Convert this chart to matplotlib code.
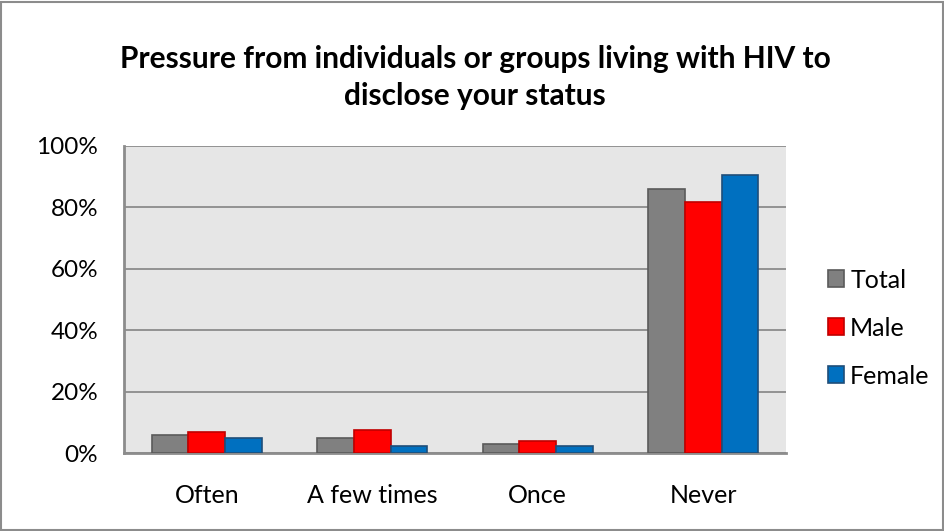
import matplotlib
matplotlib.use("Agg")
import matplotlib.pyplot as plt
import numpy as np
from matplotlib.patches import Rectangle

categories = ["Often", "A few times", "Once", "Never"]
total = [5.9, 5.0, 3.0, 86.1]
male = [6.9, 7.6, 3.8, 81.8]
female = [4.8, 2.4, 2.4, 90.4]
series_names = ["Total", "Male", "Female"]
yticks = [0, 20, 40, 60, 80, 100]

plt.rcParams['font.family'] = ['Lato', 'DejaVu Sans']

W, H = 945, 531
fig = plt.figure(figsize=(W/100, H/100), dpi=100)
fig.patches.append(Rectangle((1/W, 1/H), 1-3/W, 1-3/H, transform=fig.transFigure,
                             fill=False, edgecolor='#8c8c8c', linewidth=1.5))

left, right, top, bottom = 124, 786, 146, 453
ax = fig.add_axes([left/W, 1-bottom/H, (right-left)/W, (bottom-top)/H])
ax.set_facecolor('#E6E6E6')

x = np.arange(len(categories))
bw = 0.222
fills = ['#808080', '#FF0000', '#0070C0']
edges = ['#5a5a5a', '#C00000', '#1F4E79']
for i, (vals, name) in enumerate(zip([total, male, female], series_names)):
    ax.bar(x + (i-1)*bw, vals, bw, color=fills[i], edgecolor=edges[i], linewidth=1.2,
           label=name, zorder=3)

ax.set_xlim(-0.5, 3.5)
ax.set_ylim(0, 100)
ax.set_yticks(yticks)
ax.set_yticklabels([f"{v}%" for v in yticks], fontsize=17.5)
ax.set_xticks(x)
ax.set_xticklabels(categories, fontsize=18)
ax.tick_params(axis='y', length=0, pad=18.5)
ax.tick_params(axis='x', length=0, pad=22)
ax.yaxis.grid(True, color='#8c8c8c', linewidth=1.3, zorder=0)
ax.set_axisbelow(True)
for s in ['top', 'right']:
    ax.spines[s].set_visible(False)
for s in ['left', 'bottom']:
    ax.spines[s].set_color('#8c8c8c')
    ax.spines[s].set_linewidth(2)

fig.text(475/W, 1-77.5/H, "Pressure from individuals or groups living with HIV to\ndisclose your status",
         ha='center', va='center', fontsize=21.5, fontweight='bold', linespacing=1.4)

leg = fig.legend(loc='center left', bbox_to_anchor=(828/W, 1-328/H), frameon=False,
                 fontsize=18, handlelength=0.64, handleheight=0.64, handletextpad=0.25,
                 labelspacing=1.0, borderaxespad=0, borderpad=0)

fig.savefig("out.png", dpi=100)
